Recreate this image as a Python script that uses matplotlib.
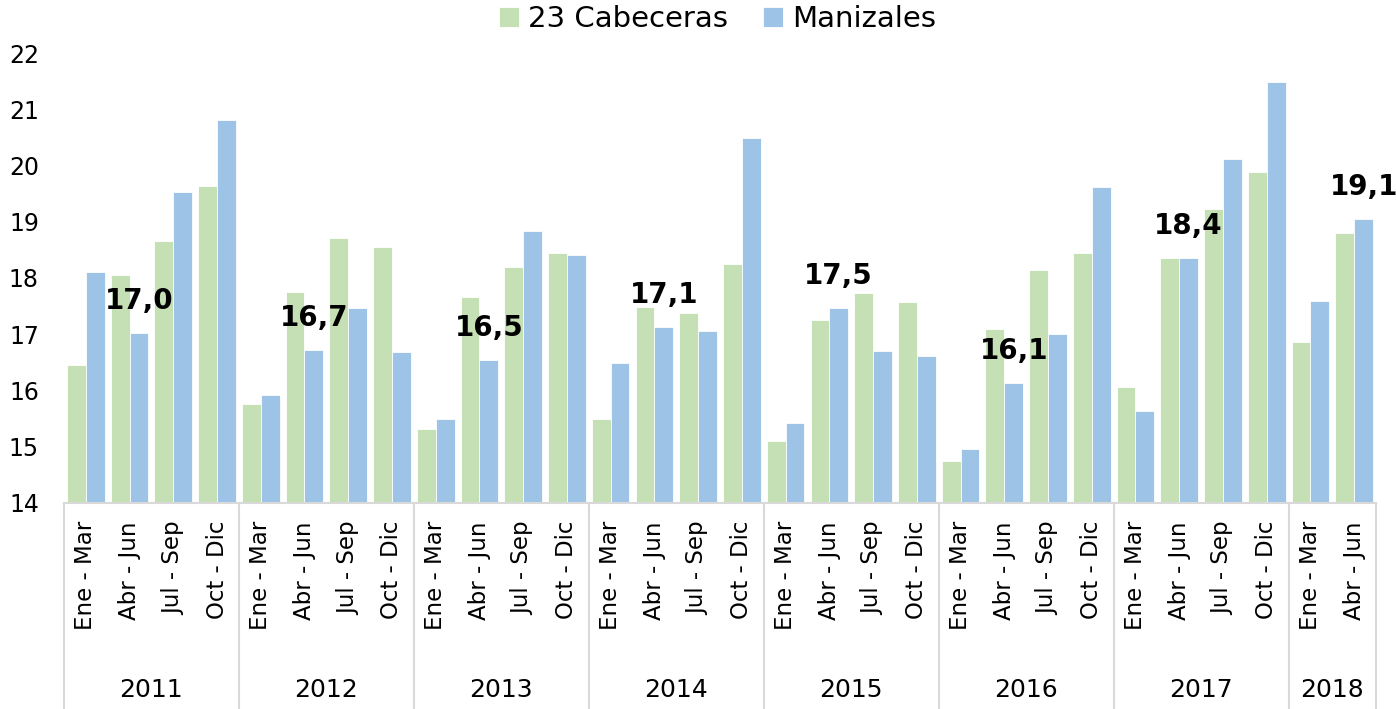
import matplotlib
matplotlib.use("Agg")
from matplotlib import pyplot as plt
from matplotlib.transforms import blended_transform_factory
import numpy as np

years = ['2011', '2012', '2013', '2014', '2015', '2016', '2017', '2018']
quarters_per_year = [4, 4, 4, 4, 4, 4, 4, 2]
quarter_names = ['Ene - Mar', 'Abr - Jun', 'Jul - Sep', 'Oct - Dic']

cabeceras = [16.45, 18.05, 18.65, 19.64,
             15.76, 17.75, 18.71, 18.56,
             15.31, 17.66, 18.20, 18.44,
             15.49, 17.48, 17.38, 18.25,
             15.11, 17.25, 17.74, 17.57,
             14.75, 17.09, 18.14, 18.45,
             16.06, 18.36, 19.23, 19.88,
             16.87, 18.80]
manizales = [18.10, 17.02, 19.53, 20.81,
             15.92, 16.72, 17.47, 16.68,
             15.49, 16.54, 18.83, 18.41,
             16.48, 17.12, 17.05, 20.49,
             15.43, 17.46, 16.71, 16.61,
             14.96, 16.13, 17.00, 19.61,
             15.63, 18.36, 20.11, 21.49,
             17.59, 19.05]
# values shown as labels (Abr - Jun of each year, Manizales)
label_idx = [1, 5, 9, 13, 17, 21, 25, 29]
label_txt = ['17,0', '16,7', '16,5', '17,1', '17,5', '16,1', '18,4', '19,1']

green = '#C5E0B4'
blue = '#9DC3E6'
grid_gray = '#D9D9D9'

tick_labels = []
for n in quarters_per_year:
    tick_labels += quarter_names[:n]

fig = plt.figure(figsize=(13.96, 7.09), dpi=100)
ax = fig.add_axes([0.0458, 0.2906, 0.9399, 0.6346])

x = np.arange(len(cabeceras))
w = 0.43
ax.bar(x - w / 2, np.array(cabeceras) - 14, w, bottom=14, color=green,
       edgecolor='white', linewidth=0.6, label='23 Cabeceras')
ax.bar(x + w / 2, np.array(manizales) - 14, w, bottom=14, color=blue,
       edgecolor='white', linewidth=0.6, label='Manizales')

for i, t in zip(label_idx, label_txt):
    ax.annotate(t, (x[i] + w / 2, manizales[i]), xytext=(0, 13),
                textcoords='offset points', ha='center', va='bottom',
                fontsize=20, fontweight='bold', color='black')

ax.set_xlim(-0.5, len(cabeceras) - 0.5)
ax.set_ylim(14, 22)
ax.set_yticks(range(14, 23))
ax.tick_params(axis='y', length=0, pad=18, labelsize=17)
ax.set_xticks(x)
ax.set_xticklabels(tick_labels, rotation=90, va='top', ha='center', fontsize=16.5)
ax.tick_params(axis='x', length=0, pad=13)

for s in ['left', 'right', 'top']:
    ax.spines[s].set_visible(False)
ax.spines['bottom'].set_color(grid_gray)
ax.spines['bottom'].set_linewidth(1.5)

# year separators and year labels
tr = blended_transform_factory(ax.transData, fig.transFigure)
start = -0.5
bounds = [start]
for y, n in zip(years, quarters_per_year):
    ax.text(start + n / 2, 0.027, y, transform=tr, ha='center', va='center',
            fontsize=18)
    start += n
    bounds.append(start)
for b in bounds:
    ax.plot([b, b], [0, 0.2906], transform=tr, color=grid_gray,
            linewidth=1.5, clip_on=False)

fig.legend(loc='center', bbox_to_anchor=(0.514, 0.973), ncol=2, frameon=False,
           fontsize=21, handlelength=0.7, handleheight=0.7, handletextpad=0.3,
           columnspacing=1.2)

fig.savefig('out.png', dpi=100)
